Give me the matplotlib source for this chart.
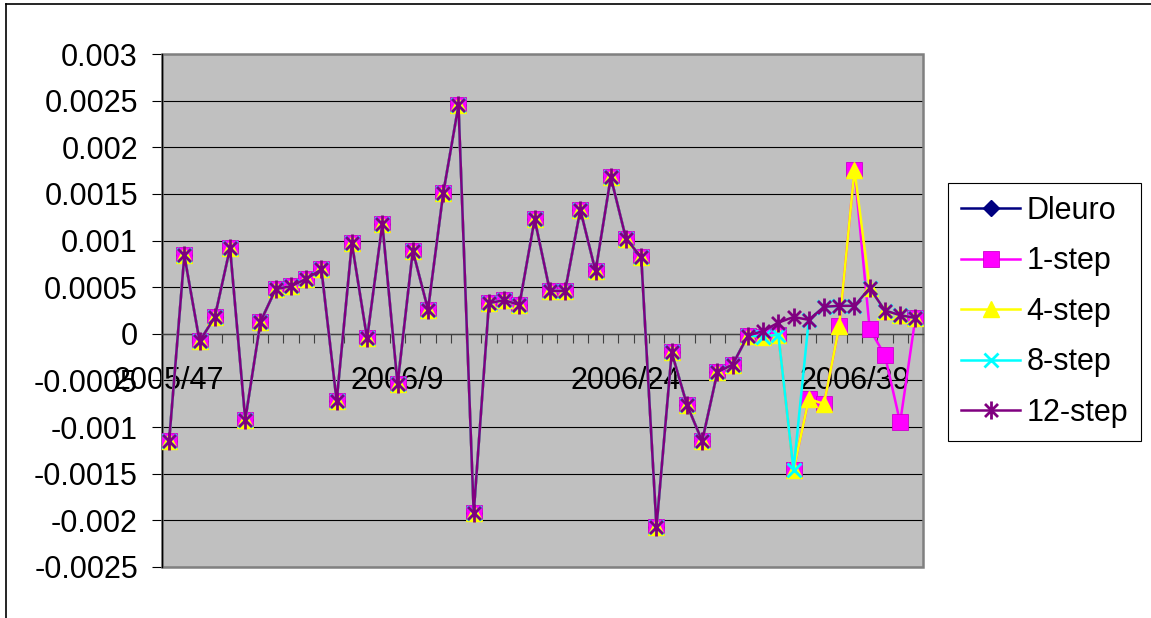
import numpy as np
import matplotlib
matplotlib.use("Agg")
import matplotlib.pyplot as plt
from matplotlib.path import Path
from matplotlib.lines import Line2D
from matplotlib.patches import Rectangle
from matplotlib.ticker import FixedLocator, FuncFormatter

plt.rcParams['font.family'] = ['Liberation Sans', 'DejaVu Sans']

# Weekly categories: 2005/47 .. 2005/53, then 2006/1 .. 2006/43
weeks = [f"2005/{w}" for w in range(47, 54)] + [f"2006/{w}" for w in range(1, 44)]
shown_labels = ["2005/47", "2006/9", "2006/24", "2006/39"]

# Observed weekly changes (shared by all series up to 2006/32)
history = [-0.00115, 0.00084, -0.00008, 0.00018, 0.00092, -0.00092, 0.00013,
           0.00048, 0.00051, 0.00059, 0.00069, -0.00072, 0.00097, -0.00005,
           0.00118, -0.00054, 0.00089, 0.00026, 0.00151, 0.00245, -0.00192,
           0.00033, 0.00036, 0.00031, 0.00123, 0.00046, 0.00046, 0.00133,
           0.00067, 0.00168, 0.00102, 0.00082, -0.00207, -0.00020, -0.00076,
           -0.00115, -0.00041, -0.00033, -0.00002]

# Forecast tails for the last eleven weeks
tail_1step = [-0.00003, -0.00001, -0.00146, -0.00070, -0.00075, 0.00008,
              0.00176, 0.00005, -0.00023, -0.00095, 0.00017]
tail_4step = [-0.00003, -0.00001, -0.00146, -0.00070, -0.00075, 0.00008,
              0.00176, 0.00049, 0.00025, 0.00020, 0.00017]
tail_8step = [-0.00003, -0.00001, -0.00146, 0.00015, 0.00029, 0.00030,
              0.00030, 0.00049, 0.00025, 0.00020, 0.00017]
tail_12step = [0.00003, 0.00012, 0.00018, 0.00015, 0.00029, 0.00030,
               0.00030, 0.00049, 0.00025, 0.00020, 0.00017]

dleuro = history + [np.nan] * len(tail_1step)
step1 = history + tail_1step
step4 = history + tail_4step
step8 = history + tail_8step
step12 = history + tail_12step

x = np.arange(len(weeks))

W, H = 1151, 618
fig = plt.figure(figsize=(W / 100, H / 100), dpi=100)
fig.patch.set_facecolor('white')

left, right, top, bottom = 161.5, 923, 54, 567
ax = fig.add_axes([left / W, 1 - bottom / H, (right - left) / W, (bottom - top) / H])
ax.set_facecolor('#C0C0C0')

# asterisk: vertical bar plus an X
ast = Path([(0, -1), (0, 1), (-0.72, -0.72), (0.72, 0.72), (-0.72, 0.72), (0.72, -0.72)],
           [Path.MOVETO, Path.LINETO, Path.MOVETO, Path.LINETO, Path.MOVETO, Path.LINETO])

lw = 1.8
fs = 22
ax.plot(x, dleuro, color='#000080', lw=lw, marker='D', ms=8, mfc='#000080',
        mec='#000080', label='Dleuro', zorder=3)
ax.plot(x, step1, color='#FF00FF', lw=lw, marker='s', ms=12, mfc='#FF00FF',
        mec='#CC00CC', mew=0.6, label='1-step', zorder=4)
ax.plot(x, step4, color='#FFFF00', lw=lw, marker='^', ms=12, mfc='#FFFF00',
        mec='#FFFF00', label='4-step', zorder=5)
ax.plot(x, step8, color='#00FFFF', lw=lw, marker='x', ms=10, mec='#00FFFF',
        mew=2.0, label='8-step', zorder=6)
ax.plot(x, step12, color='#800080', lw=lw, marker=ast, ms=13, mec='#800080',
        mfc='none', mew=2.0, label='12-step', zorder=7)

ax.set_xlim(-0.5, len(weeks) - 0.5)
ax.set_ylim(-0.0025, 0.003)

# y axis
yt = np.round(np.arange(-0.0025, 0.00301, 0.0005), 5)
ax.set_yticks(yt)
ax.yaxis.set_major_formatter(FuncFormatter(lambda v, p: f"{round(v, 5):g}" if abs(v) > 1e-12 else "0"))
ax.tick_params(axis='y', direction='out', length=7, width=0.8, color='black',
               pad=10, labelsize=fs)
ax.yaxis.grid(True, color='black', lw=0.8, zorder=1)
ax.set_axisbelow(True)

# category axis at zero with tick marks between categories
ax.spines['bottom'].set_position(('data', 0))
ax.spines['bottom'].set_color('#404040')
ax.spines['bottom'].set_linewidth(1.0)
label_pos = [weeks.index(s) for s in shown_labels]
ax.xaxis.set_major_locator(FixedLocator(label_pos))
ax.set_xticklabels(shown_labels)
ax.xaxis.set_minor_locator(FixedLocator(np.arange(-0.5, len(weeks), 1.0)))
ax.tick_params(axis='x', which='major', length=0, pad=23.5, labelsize=fs)
ax.tick_params(axis='x', which='minor', direction='out', length=6.5, width=0.8,
               color='#404040')
for lab in ax.get_xticklabels():
    lab.set_zorder(8)

ax.spines['left'].set_color('black')
ax.spines['left'].set_linewidth(1.0)
for s in ('top', 'right'):
    ax.spines[s].set_visible(False)
ax.add_patch(Rectangle((0, 0), 1, 1, transform=ax.transAxes, fill=False,
                       edgecolor='#808080', lw=1.8, zorder=2, clip_on=False))

leg = fig.legend(loc='upper left', bbox_to_anchor=(948 / W, 1 - 183 / H),
                 bbox_transform=fig.transFigure, borderaxespad=0,
                 fontsize=fs, frameon=True, fancybox=False, framealpha=1,
                 edgecolor='black', handlelength=1.95, handletextpad=0.2,
                 labelspacing=0.67, borderpad=0.42)
leg.get_frame().set_linewidth(0.8)

# outer chart frame
fig.add_artist(Line2D([6 / W, 1], [1 - 4 / H, 1 - 4 / H], transform=fig.transFigure,
                      color='black', lw=1.2))
fig.add_artist(Line2D([6 / W, 6 / W], [0, 1 - 4 / H], transform=fig.transFigure,
                      color='black', lw=1.2))

fig.savefig('out.png', dpi=100)
